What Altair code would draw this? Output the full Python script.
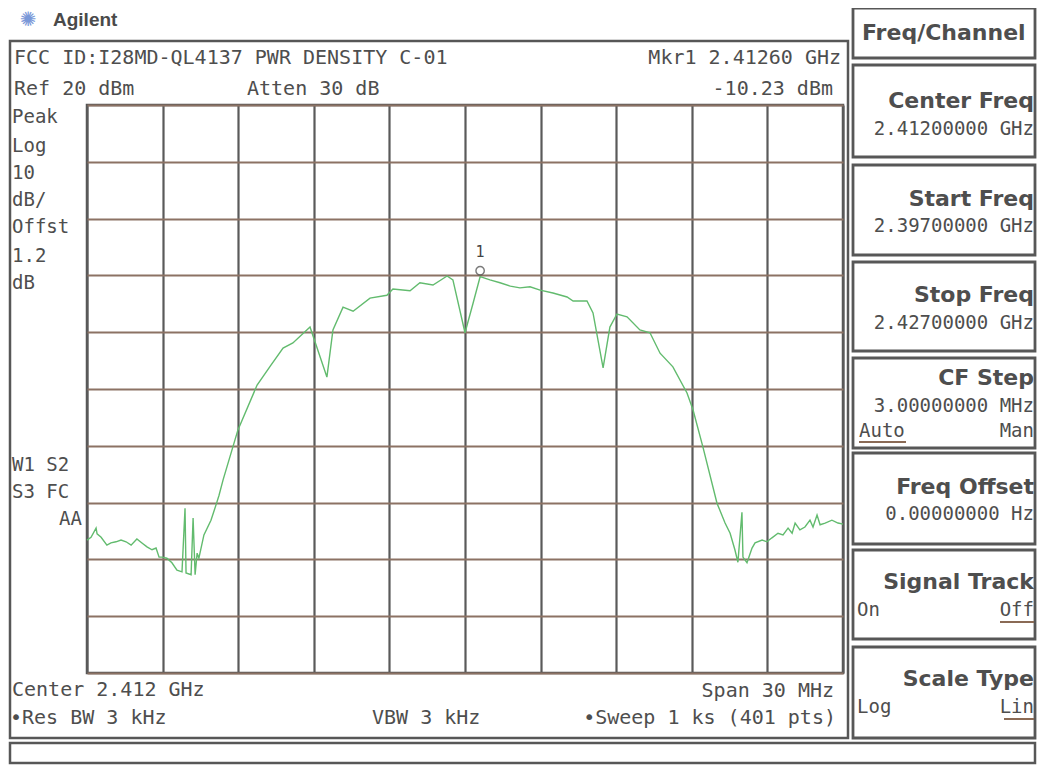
import altair as alt
import pandas as pd

# ---------------- data ----------------
freq_mhz = [2397.00, 2397.16, 2397.36, 2397.40, 2397.56, 2397.79, 2397.95, 2398.15, 2398.35, 2398.55,
            2398.75, 2398.98, 2399.18, 2399.38, 2399.58, 2399.74, 2399.86, 2399.98, 2400.17, 2400.37,
            2400.57, 2400.77, 2400.89, 2400.93, 2401.13, 2401.21, 2401.29, 2401.37, 2401.44, 2401.64,
            2401.92, 2402.12, 2402.24, 2402.40, 2402.99, 2403.75, 2404.30, 2404.78, 2405.17, 2405.85,
            2406.52, 2406.76, 2407.16, 2407.56, 2408.23, 2408.90, 2409.14, 2409.82, 2410.21, 2410.73,
            2411.29, 2411.52, 2412.00, 2412.32, 2412.60, 2412.99, 2413.39, 2413.80, 2414.18, 2414.58,
            2414.98, 2415.49, 2416.05, 2416.29, 2416.84, 2417.08, 2417.48, 2417.75, 2418.03, 2418.43,
            2418.94, 2419.34, 2419.74, 2420.25, 2420.81, 2421.05, 2421.44, 2422.00, 2422.32, 2422.52,
            2422.71, 2422.83, 2422.99, 2423.03, 2423.19, 2423.39, 2423.51, 2423.79, 2423.98, 2424.18,
            2424.42, 2424.62, 2424.82, 2424.98, 2425.10, 2425.29, 2425.49, 2425.69, 2425.81, 2425.97,
            2426.09, 2426.29, 2426.56, 2426.80, 2427.00]
level_dbm = [-56.6, -56.1, -54.5, -55.5, -56.1, -57.5, -57.1, -56.9, -56.6, -56.9,
             -57.5, -56.4, -57.1, -57.8, -58.3, -58.0, -59.6, -59.6, -59.8, -60.6,
             -61.9, -62.2, -51.0, -62.4, -62.7, -52.7, -62.7, -58.9, -59.8, -55.7,
             -53.1, -50.4, -48.7, -46.0, -37.2, -29.3, -25.8, -22.8, -21.9, -19.1,
             -27.9, -19.6, -15.6, -16.3, -14.0, -13.5, -12.4, -12.7, -11.3, -11.7,
             -10.1, -10.8, -20.1, -14.9, -10.23, -10.8, -11.3, -11.9, -12.2, -12.0,
             -12.6, -13.1, -13.8, -14.5, -14.5, -16.6, -26.3, -19.1, -16.8, -17.3,
             -19.6, -20.1, -23.7, -26.1, -30.7, -33.7, -40.2, -50.1, -53.6, -55.4,
             -58.3, -60.5, -51.7, -59.6, -60.6, -58.0, -57.1, -56.6, -56.9, -56.2,
             -55.4, -55.7, -54.5, -55.4, -53.6, -54.8, -54.3, -53.1, -54.3, -52.2,
             -53.9, -53.6, -53.1, -53.6, -53.8]

x_grid = [2397, 2400, 2403, 2406, 2409, 2412, 2415, 2418, 2421, 2424, 2427]
y_grid = [-80, -70, -60, -50, -40, -30, -20, -10, 0, 10, 20]

mkr_freq = [2412.60]
mkr_level = [-10.23]

# ---------------- layout constants ----------------
OX, OY = 87, 105          # plot origin on the page
PW, PH = 756, 568         # plot area
SVG_W, SVG_H = 1029, 757  # whole drawing (page is 1045x777 with 8px margins)
TEXT = "#4e4e4e"
FRAME = "#575757"
MONO = "DejaVu Sans Mono"
SANS = "DejaVu Sans"

one = pd.DataFrame({"k": [0]})
trace = pd.DataFrame({"f": freq_mhz, "p": level_dbm, "i": list(range(len(freq_mhz)))})
mkr = pd.DataFrame({"f": mkr_freq, "p": mkr_level, "lbl": ["1"]})

xs = alt.Scale(domain=[2397, 2427], nice=False, zero=False)
ys = alt.Scale(domain=[-80, 20], nice=False, zero=False)


def txt(s, x, y, size=19, font=MONO, weight="normal", align="left", color=TEXT):
    return alt.Chart(one).mark_text(
        text=s, align=align, baseline="middle", fontSize=size, font=font,
        fontWeight=weight, color=color
    ).encode(x=alt.value(x - OX), y=alt.value(y - OY))


def box(x1, y1, x2, y2, color=FRAME, width=2.5):
    return alt.Chart(one).mark_rect(fillOpacity=0, stroke=color, strokeWidth=width).encode(
        x=alt.value(x1 - OX), x2=alt.value(x2 - OX), y=alt.value(y1 - OY), y2=alt.value(y2 - OY)
    )


def hline(x1, x2, y, color="#8a6a55", width=2):
    return alt.Chart(one).mark_rule(color=color, strokeWidth=width).encode(
        x=alt.value(x1 - OX), x2=alt.value(x2 - OX), y=alt.value(y - OY)
    )


layers = []

# main trace with grid axes
line = alt.Chart(trace).mark_line(color="#62bb6e", strokeWidth=1.4).encode(
    x=alt.X("f:Q", scale=xs, axis=alt.Axis(values=x_grid, grid=True, labels=False, ticks=False,
                                           domain=False, title=None, gridColor="#5a5a5a",
                                           gridWidth=2.2, gridOpacity=1)),
    y=alt.Y("p:Q", scale=ys, axis=alt.Axis(values=y_grid, grid=True, labels=False, ticks=False,
                                           domain=False, title=None, gridColor="#8c7264",
                                           gridWidth=2.2, gridOpacity=1)),
    order="i:Q",
)
layers.append(line)

marker = alt.Chart(mkr).mark_point(shape="circle", size=70, filled=False, color="#444",
                                   strokeWidth=1.4, yOffset=-6).encode(
    x=alt.X("f:Q", scale=xs), y=alt.Y("p:Q", scale=ys))
marker_lbl = alt.Chart(mkr).mark_text(fontSize=15, font=MONO, color="#444", dy=-25).encode(
    x=alt.X("f:Q", scale=xs), y=alt.Y("p:Q", scale=ys), text="lbl:N")
layers += [marker, marker_lbl]

# frames
RB = SVG_W + 8 - 2   # right edge of the softkey boxes (page coords)
BB = SVG_H + 8 - 2   # bottom edge of the status bar
layers.append(box(10, 41, 848, 738, FRAME, 2.5))
layers.append(box(10, 743, RB, BB, FRAME, 2.5))
for (y1, y2) in [(8, 58), (65, 157), (165, 255), (262, 351), (358, 448), (453, 544), (550, 639), (647, 738)]:
    layers.append(box(853, y1, RB, y2, FRAME, 2.8))

# header / logo
layers.append(txt("✺", 28, 20, size=20, font=SANS, align="center", color="#7a98d8"))
layers.append(txt("Agilent", 53, 20, size=19, font="Liberation Sans", weight="bold", color="#4a4a4a"))
layers.append(txt("FCC ID:I28MD-QL4137 PWR DENSITY C-01", 14, 58, size=20))
layers.append(txt("Mkr1  2.41260 GHz", 841, 58, size=20, align="right"))
layers.append(txt("Ref 20 dBm", 14, 89, size=20))
layers.append(txt("Atten 30 dB", 247, 89, size=20))
layers.append(txt("-10.23 dBm", 833, 89, size=20, align="right"))

# left column
for s, y in [("Peak", 117), ("Log", 146), ("10", 173), ("dB/", 200), ("Offst", 227), ("1.2", 256), ("dB", 283)]:
    layers.append(txt(s, 12, y, size=19))
layers.append(txt("W1  S2", 12, 465, size=19))
layers.append(txt("S3 FC", 12, 492, size=19))
layers.append(txt("AA", 82, 519, size=19, align="right"))

# bottom annotations
layers.append(txt("Center 2.412 GHz", 12, 690, size=20))
layers.append(txt("Span 30 MHz", 834, 691, size=20, align="right"))
layers.append(txt("•Res BW 3 kHz", 10, 718, size=20))
layers.append(txt("VBW 3 kHz", 372, 718, size=20))
layers.append(txt("•Sweep 1 ks (401 pts)", 836, 718, size=20, align="right"))

# softkeys
R = RB - 1
layers.append(txt("Freq/Channel", 862, 33, size=22, font=SANS, weight="bold"))
layers.append(txt("Center Freq", R, 101, size=22, font=SANS, weight="bold", align="right"))
layers.append(txt("2.41200000 GHz", R, 129, size=19, align="right"))
layers.append(txt("Start Freq", R, 199, size=22, font=SANS, weight="bold", align="right"))
layers.append(txt("2.39700000 GHz", R, 226, size=19, align="right"))
layers.append(txt("Stop Freq", R, 295, size=22, font=SANS, weight="bold", align="right"))
layers.append(txt("2.42700000 GHz", R, 323, size=19, align="right"))
layers.append(txt("CF Step", R, 378, size=22, font=SANS, weight="bold", align="right"))
layers.append(txt("3.00000000 MHz", R, 406, size=19, align="right"))
layers.append(txt("Auto", 859, 431, size=19))
layers.append(txt("Man", R, 431, size=19, align="right"))
layers.append(hline(859, 906, 442))
layers.append(txt("Freq Offset", R, 487, size=22, font=SANS, weight="bold", align="right"))
layers.append(txt("0.00000000  Hz", R, 514, size=19, align="right"))
layers.append(txt("Signal Track", R, 582, size=22, font=SANS, weight="bold", align="right"))
layers.append(txt("On", 857, 610, size=19))
layers.append(txt("Off", R, 610, size=19, align="right"))
layers.append(hline(R - 34, R, 622))
layers.append(txt("Scale Type", R, 679, size=22, font=SANS, weight="bold", align="right"))
layers.append(txt("Log", 857, 707, size=19))
layers.append(txt("Lin", R, 707, size=19, align="right"))
layers.append(hline(R - 30, R, 719))

chart = alt.layer(*layers).properties(
    width=PW, height=PH,
    padding={"left": OX - 8, "top": OY - 8,
             "right": SVG_W - (OX - 8) - PW, "bottom": SVG_H - (OY - 8) - PH},
    autosize=alt.AutoSizeParams(type="none"),
    background="white",
).configure_view(stroke="#555", strokeWidth=2.5)

chart.save("out.html", embed_options={"renderer": "svg", "actions": False})
